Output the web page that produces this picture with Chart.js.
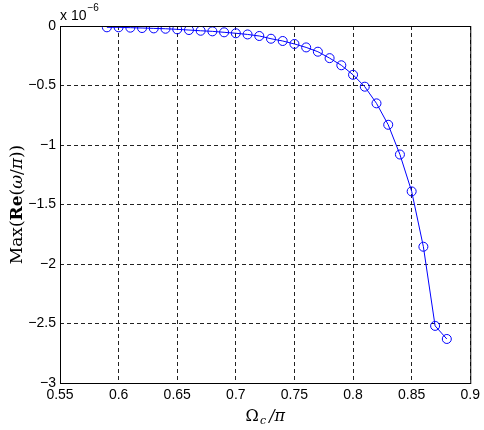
<!DOCTYPE html>
<html lang="en">
<head>
    <meta charset="UTF-8">
    <title>Max Re(omega/pi) vs Omega_c/pi</title>
    <style>
        html, body { margin: 0; padding: 0; background: #fff; }
        #wrap { width: 484px; height: 430px; position: relative; }
    </style>
    <script src="https://cdn.jsdelivr.net/npm/chart.js"></script>
</head>
<body>
    <div id="wrap"><canvas id="chart"></canvas></div>
    <script>
        // Omega_c / pi
        const omegaC = [0.59, 0.60, 0.61, 0.62, 0.63, 0.64, 0.65, 0.66, 0.67, 0.68,
                        0.69, 0.70, 0.71, 0.72, 0.73, 0.74, 0.75, 0.76, 0.77, 0.78,
                        0.79, 0.80, 0.81, 0.82, 0.83, 0.84, 0.85, 0.86, 0.87, 0.88];
        // Max(Re(omega/pi)), in units of 1e-6
        const maxRe = [-0.011, -0.011, -0.014, -0.017, -0.020, -0.023, -0.028, -0.034, -0.040, -0.045,
                       -0.053, -0.061, -0.071, -0.084, -0.107, -0.126, -0.151, -0.180, -0.216, -0.270,
                       -0.330, -0.410, -0.510, -0.650, -0.830, -1.080, -1.390, -1.855, -2.520, -2.630];
        const xTicks = [0.55, 0.6, 0.65, 0.7, 0.75, 0.8, 0.85, 0.9];
        const yTicks = [0, -0.5, -1, -1.5, -2, -2.5, -3];

        const sans = "'Liberation Sans', Arial, sans-serif";
        const serif = "'DejaVu Serif', 'Liberation Serif', serif";

        // frame, exponent note and axis titles (MATLAB style)
        const decorations = {
            id: 'decorations',
            afterDraw(chart) {
                const ctx = chart.ctx;
                const a = chart.chartArea;
                ctx.save();
                ctx.strokeStyle = '#000';
                ctx.lineWidth = 1;
                ctx.strokeRect(a.left + 0.5, a.top + 0.5, a.right - a.left, a.bottom - a.top);

                // exponent
                ctx.fillStyle = '#000';
                ctx.textBaseline = 'alphabetic';
                ctx.textAlign = 'left';
                ctx.font = '14px ' + sans;
                ctx.fillText('x 10', a.left, 20);
                const w = ctx.measureText('x 10').width;
                ctx.font = '10px ' + sans;
                ctx.fillText('\u22126', a.left + w + 1, 11);

                // x title
                ctx.textAlign = 'center';
                const cx = (a.left + a.right) / 2;
                ctx.font = '16px ' + serif;
                ctx.fillText('\u03A9', cx - 13, 421);
                ctx.font = 'italic 11px ' + serif;
                ctx.fillText('c', cx - 2, 424);
                ctx.font = 'italic 16px ' + serif;
                ctx.fillText('/\u03C0', cx + 12, 421);

                // y title, with bold "Re"
                ctx.translate(22, (a.top + a.bottom) / 2);
                ctx.rotate(-Math.PI / 2);
                const parts = [
                    ['Max(', '17px ' + serif],
                    ['Re', 'bold 17px ' + serif],
                    ['(', '17px ' + serif],
                    ['\u03C9', 'italic 17px ' + serif],
                    ['/', '17px ' + serif],
                    ['\u03C0', 'italic 17px ' + serif],
                    ['))', '17px ' + serif]
                ];
                let total = 0;
                parts.forEach(p => { ctx.font = p[1]; total += ctx.measureText(p[0]).width; });
                let x = -total / 2;
                ctx.textAlign = 'left';
                parts.forEach(p => {
                    ctx.font = p[1];
                    ctx.fillText(p[0], x, 0);
                    x += ctx.measureText(p[0]).width;
                });
                ctx.restore();
            }
        };

        const fmt = v => {
            const s = String(Number(v.toFixed(2)));
            return s.replace('-', '\u2212');
        };

        new Chart(document.getElementById('chart'), {
            type: 'line',
            data: {
                datasets: [{
                    data: omegaC.map((x, i) => ({ x: x, y: maxRe[i] })),
                    borderColor: '#0000ff',
                    borderWidth: 1,
                    pointStyle: 'circle',
                    pointRadius: 4.5,
                    pointBorderColor: '#0000ff',
                    pointBackgroundColor: 'rgba(0,0,0,0)',
                    pointBorderWidth: 1,
                    fill: false,
                    tension: 0
                }]
            },
            options: {
                responsive: true,
                maintainAspectRatio: false,
                animation: false,
                devicePixelRatio: 1,
                layout: { padding: { left: 0, right: 10, top: 26, bottom: 0 } },
                plugins: {
                    legend: { display: false },
                    tooltip: { enabled: false }
                },
                scales: {
                    x: {
                        type: 'linear',
                        min: 0.55,
                        max: 0.9,
                        afterBuildTicks: s => { s.ticks = xTicks.map(v => ({ value: v })); },
                        afterFit: s => { s.height = 47; },
                        ticks: {
                            callback: v => fmt(v),
                            color: '#000',
                            font: { family: sans, size: 14 },
                            padding: 4,
                            maxRotation: 0,
                            autoSkip: false
                        },
                        grid: { color: '#222', lineWidth: 1, drawTicks: false },
                        border: { display: false, dash: [4, 3] }
                    },
                    y: {
                        type: 'linear',
                        min: -3,
                        max: 0,
                        afterBuildTicks: s => { s.ticks = yTicks.map(v => ({ value: v })); },
                        afterFit: s => { s.width = 60; },
                        ticks: {
                            callback: v => fmt(v),
                            color: '#000',
                            font: { family: sans, size: 14 },
                            padding: 4,
                            autoSkip: false
                        },
                        grid: { color: '#222', lineWidth: 1, drawTicks: false },
                        border: { display: false, dash: [4, 3] }
                    }
                }
            },
            plugins: [decorations]
        });
    </script>
</body>
</html>
